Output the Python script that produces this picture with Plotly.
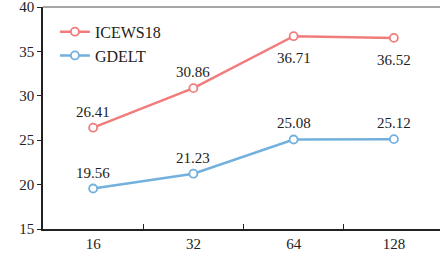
import plotly.graph_objects as go

categories = ["16", "32", "64", "128"]
icews18 = [26.41, 30.86, 36.71, 36.52]
gdelt = [19.56, 21.23, 25.08, 25.12]
icews_pos = [1, 1, -1, -1]
gdelt_pos = [1, 1, 1, 1]

red = "#F07C7C"
blue = "#72B0DE"
font = "Times New Roman"

fig = go.Figure()
for name, vals, col in [("ICEWS18", icews18, red), ("GDELT", gdelt, blue)]:
    fig.add_trace(go.Scatter(
        x=categories, y=vals, name=name, mode="lines+markers",
        line=dict(color=col, width=2.5),
        marker=dict(symbol="circle", size=8, color="white", line=dict(color=col, width=1.8)),
    ))

for vals, pos in [(icews18, icews_pos), (gdelt, gdelt_pos)]:
    for i, (c, v, p) in enumerate(zip(categories, vals, pos)):
        fig.add_annotation(x=i, y=v, xref="x", yref="y", text=f"{v:.2f}", showarrow=False,
                           yshift=16 if p > 0 else -22,
                           font=dict(family=font, size=15, color="#222"))

fig.add_shape(type="line", xref="paper", yref="paper", x0=0, x1=1.05, y0=1, y1=1,
              line=dict(color="#888", width=1.5))

fig.update_layout(
    width=440, height=260,
    margin=dict(l=43, r=0, t=7, b=31),
    paper_bgcolor="white", plot_bgcolor="white",
    font=dict(family=font, size=15, color="#222"),
    showlegend=True,
    legend=dict(x=0.03, y=0.965, xanchor="left", yanchor="top",
                font=dict(family=font, size=16, color="#222"),
                bgcolor="rgba(0,0,0,0)", tracegroupgap=2),
    xaxis=dict(type="category", range=[-0.5, 3.46], showgrid=False,
               showline=True, linecolor="#222", linewidth=1.5,
               ticks="inside", tickson="boundaries", ticklen=5, tickcolor="#222",
               tickfont=dict(family=font, size=15, color="#222")),
    yaxis=dict(range=[15, 40], dtick=5, showgrid=False, zeroline=False,
               showline=True, linecolor="#222", linewidth=1.5,
               ticks="outside", ticklen=4, tickcolor="#222",
               ticklabeloverflow="allow",
               tickfont=dict(family=font, size=15, color="#222")),
)

fig.write_html("out.html", config={"displayModeBar": False},
               post_script="document.body.style.margin='0';")
